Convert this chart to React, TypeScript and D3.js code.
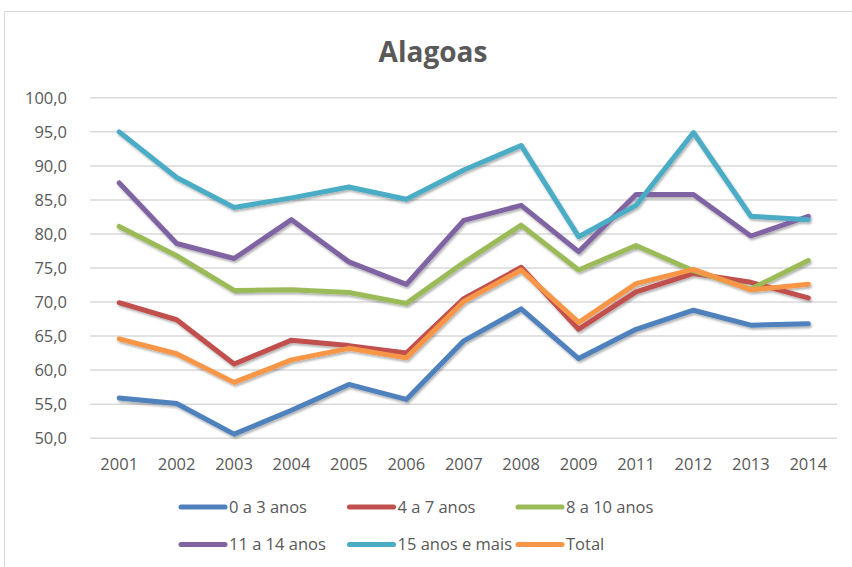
import React from "react";
import * as d3 from "d3";

const years = ["2001", "2002", "2003", "2004", "2005", "2006", "2007", "2008", "2009", "2011", "2012", "2013", "2014"];
const yTicks = [50, 55, 60, 65, 70, 75, 80, 85, 90, 95, 100];

const age0to3 = [55.9, 55.1, 50.6, 54.1, 57.9, 55.7, 64.3, 69.0, 61.7, 66.0, 68.8, 66.6, 66.8];
const age4to7 = [69.9, 67.4, 60.9, 64.4, 63.6, 62.5, 70.5, 75.1, 66.0, 71.5, 74.2, 72.9, 70.6];
const age8to10 = [81.1, 76.8, 71.7, 71.8, 71.4, 69.8, 75.8, 81.3, 74.7, 78.3, 74.6, 71.9, 76.1];
const age11to14 = [87.5, 78.6, 76.4, 82.1, 75.9, 72.6, 82.0, 84.2, 77.4, 85.8, 85.8, 79.7, 82.6];
const age15plus = [95.0, 88.3, 83.9, 85.3, 86.9, 85.1, 89.4, 93.0, 79.6, 84.2, 94.9, 82.6, 82.1];
const total = [64.6, 62.4, 58.2, 61.5, 63.2, 61.8, 70.1, 74.7, 67.0, 72.7, 74.8, 71.8, 72.6];

const series = [
  { name: "0 a 3 anos", color: "#4F81BD", values: age0to3 },
  { name: "4 a 7 anos", color: "#C0504D", values: age4to7 },
  { name: "8 a 10 anos", color: "#9BBB59", values: age8to10 },
  { name: "11 a 14 anos", color: "#8064A2", values: age11to14 },
  { name: "15 anos e mais", color: "#4BACC6", values: age15plus },
  { name: "Total", color: "#F79646", values: total },
];

const W = 852;
const H = 567;
const textColor = "#595959";
const font = "'Open Sans', 'Liberation Sans', sans-serif";

const App = () => {
  const x = d3.scaleBand().domain(years).range([90.5, 837]).padding(0);
  const y = d3.scaleLinear().domain([50, 100]).range([438.2, 97.8]);

  const line = d3
    .line<number>()
    .x((_, i) => (x(years[i]) as number) + x.bandwidth() / 2)
    .y((d) => y(d));

  // legend: 3 columns x 2 rows
  const legendX = [181, 349.5, 518];
  const legendY = [507, 544.5];

  return (
    <div style={{ position: "fixed", left: 0, top: 0 }}>
      <svg width={W} height={H} style={{ display: "block", background: "#fff", fontFamily: font }}>
        <defs>
          <filter id="shadow" x="-5%" y="-5%" width="110%" height="120%">
            <feDropShadow dx="1.2" dy="2" stdDeviation="1.3" floodColor="#000" floodOpacity="0.3" />
          </filter>
        </defs>
        <rect x={4.5} y={11.5} width={W + 10} height={H + 10} fill="#fff" stroke="#d9d9d9" strokeWidth={1} />

        <text x={433} y={62} textAnchor="middle" fontSize={28} fontWeight="bold" fill={textColor}>
          Alagoas
        </text>

        {yTicks.map((t) => (
          <g key={t}>
            <line x1={90} x2={837} y1={y(t)} y2={y(t)} stroke="#d9d9d9" strokeWidth={1.5} />
            <text x={67} y={y(t)} dy="0.36em" textAnchor="end" fontSize={16.5} fill={textColor}>
              {d3.format(".1f")(t).replace(".", ",")}
            </text>
          </g>
        ))}

        {years.map((yr) => (
          <text
            key={yr}
            x={(x(yr) as number) + x.bandwidth() / 2}
            y={470}
            textAnchor="middle"
            fontSize={16.5}
            fill={textColor}
          >
            {yr}
          </text>
        ))}

        <g filter="url(#shadow)">
          {series.map((s) => (
            <path
              key={s.name}
              d={line(s.values) || ""}
              fill="none"
              stroke={s.color}
              strokeWidth={5}
              strokeLinejoin="round"
              strokeLinecap="round"
            />
          ))}
        </g>

        {series.map((s, i) => {
          const lx = legendX[i % 3];
          const ly = legendY[Math.floor(i / 3)];
          return (
            <g key={s.name}>
              <line x1={lx} x2={lx + 44} y1={ly} y2={ly} stroke={s.color} strokeWidth={5} strokeLinecap="round" />
              <text x={lx + 48} y={ly} dy="0.36em" fontSize={16.5} fill={textColor}>
                {s.name}
              </text>
            </g>
          );
        })}
      </svg>
    </div>
  );
};

export default App;
